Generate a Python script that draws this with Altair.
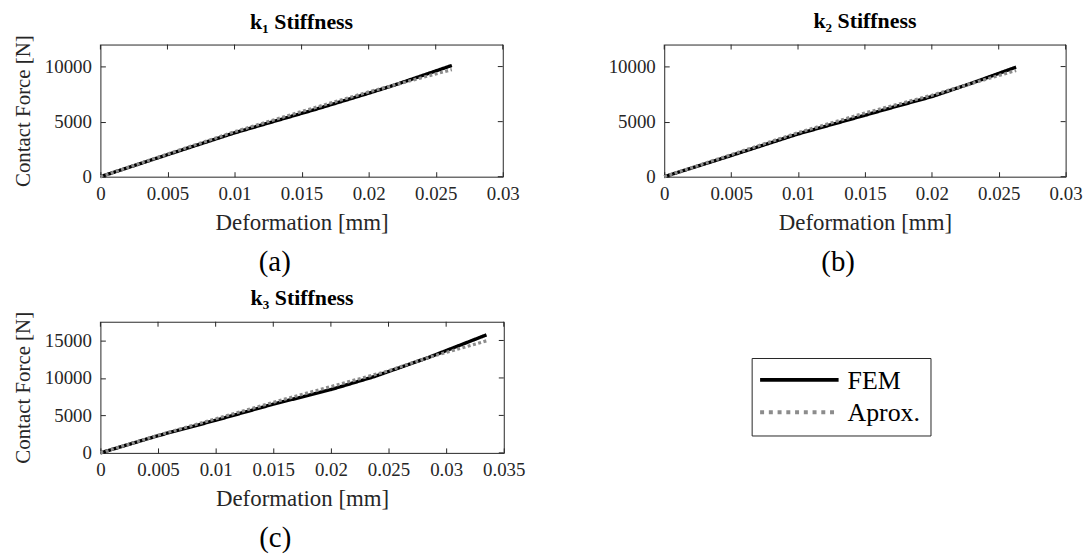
import altair as alt
import pandas as pd

SERIES = ["FEM", "Aprox."]

# ---- Panel (a): k1 stiffness ----
a_fem_x = [0, 0.005, 0.01, 0.015, 0.016, 0.02, 0.022, 0.0262]
a_fem_y = [0, 2000, 3980, 5750, 6100, 7580, 8350, 10100]
a_apx_x = [0, 0.005, 0.01, 0.015, 0.02, 0.0262]
a_apx_y = [0, 2060, 4080, 5920, 7700, 9720]

# ---- Panel (b): k2 stiffness ----
b_fem_x = [0, 0.005, 0.01, 0.015, 0.0165, 0.02, 0.023, 0.0263]
b_fem_y = [0, 1920, 3880, 5580, 6100, 7270, 8500, 9950]
b_apx_x = [0, 0.005, 0.01, 0.015, 0.02, 0.0263]
b_apx_y = [0, 2000, 4000, 5780, 7400, 9650]

# ---- Panel (c): k3 stiffness ----
c_fem_x = [0, 0.005, 0.01, 0.015, 0.02, 0.0237, 0.0285, 0.0335]
c_fem_y = [0, 2300, 4350, 6500, 8450, 10150, 12750, 15750]
c_apx_x = [0, 0.005, 0.01, 0.015, 0.02, 0.025, 0.0285, 0.0335]
c_apx_y = [0, 2350, 4550, 6750, 8850, 10950, 12750, 14950]

x_ticks_ab = [0, 0.005, 0.01, 0.015, 0.02, 0.025, 0.03]
x_ticks_c = [0, 0.005, 0.01, 0.015, 0.02, 0.025, 0.03, 0.035]
y_ticks_ab = [0, 5000, 10000]
y_ticks_c = [0, 5000, 10000, 15000]

FONT = "Liberation Serif, serif"
AXC = "#262626"
FEM_COLOR = "#000000"
APX_COLOR = "#8c8c8c"


def make_df(fx, fy, ax, ay):
    rows = [{"x": x, "y": y, "series": "FEM"} for x, y in zip(fx, fy)]
    rows += [{"x": x, "y": y, "series": "Aprox."} for x, y in zip(ax, ay)]
    return pd.DataFrame(rows)


def legend_layers():
    box = alt.Chart(pd.DataFrame({"b": [0]})).mark_rect(
        fill="white", stroke=AXC, strokeWidth=1).encode(
        x=alt.value(656), x2=alt.value(836), y=alt.value(37), y2=alt.value(115))
    fem_df = pd.DataFrame({"series": [SERIES[0]]})
    apx_df = pd.DataFrame({"series": [SERIES[1]]})
    fem_rule = alt.Chart(fem_df).mark_rule(color=FEM_COLOR, strokeWidth=4).encode(
        x=alt.value(664), x2=alt.value(743), y=alt.value(58.5))
    apx_rule = alt.Chart(apx_df).mark_rule(color=APX_COLOR, strokeWidth=4, strokeDash=[4, 4.8]).encode(
        x=alt.value(664), x2=alt.value(743), y=alt.value(91))
    fem_txt = alt.Chart(fem_df).mark_text(align="left", baseline="middle", font=FONT, fontSize=26,
                                          color="black").encode(
        text="series:N", x=alt.value(752), y=alt.value(60))
    apx_txt = alt.Chart(apx_df).mark_text(align="left", baseline="middle", font=FONT, fontSize=26,
                                          color="black").encode(
        text="series:N", x=alt.value(752), y=alt.value(92))
    return [box, fem_rule, apx_rule, fem_txt, apx_txt]


def panel(df, xmax, ymax, xticks, yticks, title, caption, ytitle, w, h, title_offset,
          with_legend=False):
    xs = alt.Scale(domain=[0, xmax], nice=False, zero=False)
    ys = alt.Scale(domain=[0, ymax], nice=False, zero=False)
    common_axis = dict(grid=False, domain=False, offset=-5, tickSize=5, labelOverlap=False,
                       labelFlush=False, tickColor=AXC, labelFont=FONT, labelFontSize=19,
                       labelColor=AXC, titleFont=FONT,
                       titleColor=AXC, titleFontWeight="normal")
    xa = alt.Axis(values=xticks, format="~g", title="Deformation [mm]", titleFontSize=23,
                  labelPadding=8, titlePadding=8, **common_axis)
    ya = alt.Axis(values=yticks, format="d", title=ytitle, titleFontSize=21, labelPadding=9,
                  titlePadding=10.5, **common_axis)
    X = alt.X("x:Q", scale=xs, axis=xa)
    Y = alt.Y("y:Q", scale=ys, axis=ya)
    color = alt.Color("series:N", scale=alt.Scale(domain=SERIES, range=[FEM_COLOR, APX_COLOR]), legend=None)
    dash = alt.StrokeDash("series:N", scale=alt.Scale(domain=SERIES, range=[[1, 0], [3, 2.5]]), legend=None)
    base = alt.Chart(df)
    fem = base.transform_filter(alt.datum.series == "FEM").mark_line(strokeWidth=3.4).encode(
        x=X, y=Y, color=color, strokeDash=dash)
    apx = base.transform_filter(alt.datum.series == "Aprox.").mark_line(strokeWidth=3.2).encode(
        x=X, y=Y, color=color, strokeDash=dash)
    # inward ticks on the top and right edges of the box
    top_ticks = alt.Chart(pd.DataFrame({"x": xticks})).mark_rule(color=AXC, strokeWidth=1).encode(
        x=X, y=alt.value(0), y2=alt.value(5))
    right_ticks = alt.Chart(pd.DataFrame({"y": yticks})).mark_rule(color=AXC, strokeWidth=1).encode(
        y=Y, x=alt.value(w - 5), x2=alt.value(w))
    cap = alt.Chart(pd.DataFrame({"c": [caption]})).mark_text(
        font=FONT, fontSize=29, color="black").encode(
        text="c:N", x=alt.value(w / 2 - 27), y=alt.value(h + 86))
    layers = [fem, apx, top_ticks, right_ticks, cap]
    if with_legend:
        layers += legend_layers()
    return alt.layer(*layers).properties(
        width=w, height=h,
        title=alt.TitleParams(title, font=FONT, fontSize=22, fontWeight="bold", color="black",
                              offset=title_offset, frame="group"))


pa = panel(make_df(a_fem_x, a_fem_y, a_apx_x, a_apx_y), 0.03, 12000, x_ticks_ab, y_ticks_ab,
           "k\u2081 Stiffness", "(a)", "Contact Force [N]", 405, 133, 1)
pb = panel(make_df(b_fem_x, b_fem_y, b_apx_x, b_apx_y), 0.03, 12000, x_ticks_ab, y_ticks_ab,
           "k\u2082 Stiffness", "(b)", None, 404, 133, 11)
pc = panel(make_df(c_fem_x, c_fem_y, c_apx_x, c_apx_y), 0.035, 17500, x_ticks_c, y_ticks_c,
           "k\u2083 Stiffness", "(c)", "Contact Force [N]", 406, 132, 1, with_legend=True)

row1 = alt.hconcat(pa, pb, spacing=87.5)
chart = alt.vconcat(row1, pc, spacing=9).properties(
    padding={"left": 4, "top": 0, "right": 0, "bottom": 0}, background="white"
).configure_view(stroke=AXC, strokeWidth=1)

chart.save("out.html", embed_options={"renderer": "svg", "actions": False})
